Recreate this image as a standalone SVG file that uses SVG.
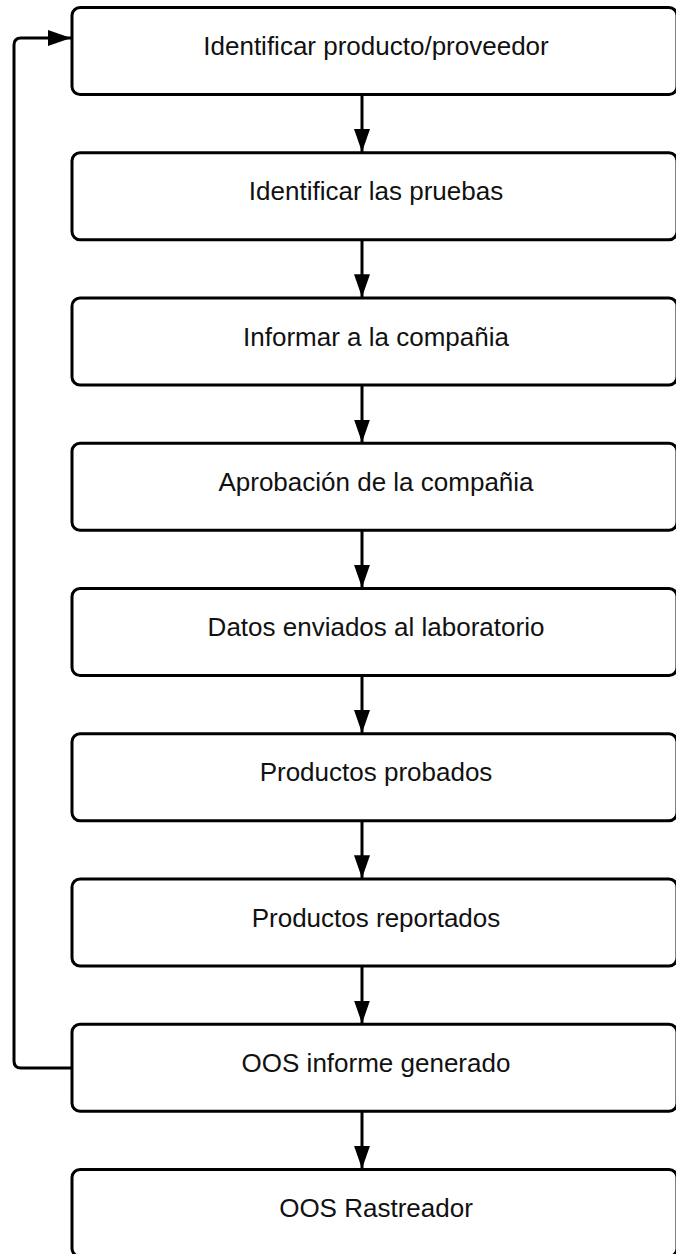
<svg xmlns="http://www.w3.org/2000/svg" width="676" height="1254" viewBox="0 0 676 1254">
<defs>
<style>
.box{fill:#ffffff;stroke:#000000;stroke-width:3}
.lbl{font-family:"Liberation Sans",Arial,sans-serif;font-size:26px;fill:#111111;text-anchor:middle}
.edge{fill:none;stroke:#000000;stroke-width:3}
</style>
<marker id="ah" markerUnits="userSpaceOnUse" markerWidth="24" markerHeight="18" refX="23" refY="8" orient="auto">
<path d="M0,0 L23,8 L0,16 Z" fill="#000000"/>
</marker>
</defs>
<rect width="676" height="1254" fill="#ffffff"/>
<g id="connectors">
<path class="edge" d="M362,94.5 V152" marker-end="url(#ah)"/>
<path class="edge" d="M362,239.75 V297.25" marker-end="url(#ah)"/>
<path class="edge" d="M362,385 V442.5" marker-end="url(#ah)"/>
<path class="edge" d="M362,530.25 V587.75" marker-end="url(#ah)"/>
<path class="edge" d="M362,675.5 V733" marker-end="url(#ah)"/>
<path class="edge" d="M362,820.75 V878.25" marker-end="url(#ah)"/>
<path class="edge" d="M362,966 V1023.5" marker-end="url(#ah)"/>
<path class="edge" d="M362,1111.25 V1168.75" marker-end="url(#ah)"/>
<path class="edge" d="M72,1068 H21 Q14,1068 14,1061 V45 Q14,38 21,38 H71" marker-end="url(#ah)"/>
</g>
<g id="n1"><rect class="box" x="72" y="7.5" width="605" height="87" rx="8"/><text class="lbl" x="376" y="55">Identificar producto/proveedor</text></g>
<g id="n2"><rect class="box" x="72" y="152.75" width="605" height="87" rx="8"/><text class="lbl" x="376" y="200.25">Identificar las pruebas</text></g>
<g id="n3"><rect class="box" x="72" y="298" width="605" height="87" rx="8"/><text class="lbl" x="376" y="345.5">Informar a la compañia</text></g>
<g id="n4"><rect class="box" x="72" y="443.25" width="605" height="87" rx="8"/><text class="lbl" x="376" y="490.75">Aprobación de la compañia</text></g>
<g id="n5"><rect class="box" x="72" y="588.5" width="605" height="87" rx="8"/><text class="lbl" x="376" y="636">Datos enviados al laboratorio</text></g>
<g id="n6"><rect class="box" x="72" y="733.75" width="605" height="87" rx="8"/><text class="lbl" x="376" y="781.25">Productos probados</text></g>
<g id="n7"><rect class="box" x="72" y="879" width="605" height="87" rx="8"/><text class="lbl" x="376" y="926.5">Productos reportados</text></g>
<g id="n8"><rect class="box" x="72" y="1024.25" width="605" height="87" rx="8"/><text class="lbl" x="376" y="1071.75">OOS informe generado</text></g>
<g id="n9"><rect class="box" x="72" y="1169.5" width="605" height="87" rx="8"/><text class="lbl" x="376" y="1217">OOS Rastreador</text></g>
</svg>
